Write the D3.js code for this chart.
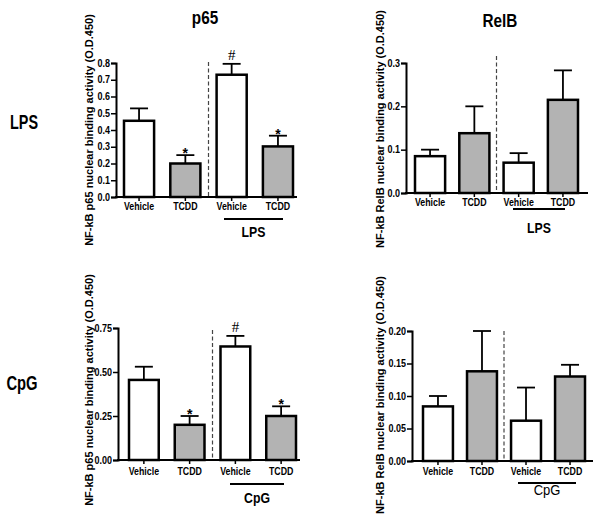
<!DOCTYPE html>
<html>
<head>
<meta charset="utf-8">
<script src="https://cdn.jsdelivr.net/npm/d3@7"></script>
<style>
  html, body { margin: 0; padding: 0; background: #fff; }
  svg { display: block; font-family: "Liberation Sans", Arial, sans-serif; }
</style>
</head>
<body>
<svg id="chart" width="600" height="524"></svg>
<script>
// ---- data ----
const categories = ["Vehicle", "TCDD", "Vehicle", "TCDD"];
const groupFill = ["white", "gray", "white", "gray"];

const p65LpsMeans = [0.455, 0.200, 0.730, 0.302];
const p65LpsErr   = [0.074, 0.050, 0.065, 0.064];
const p65LpsTicks = [0, 0.1, 0.2, 0.3, 0.4, 0.5, 0.6, 0.7, 0.8];

const relbLpsMeans = [0.085, 0.138, 0.070, 0.215];
const relbLpsErr   = [0.015, 0.062, 0.022, 0.068];
const relbLpsTicks = [0, 0.1, 0.2, 0.3];

const p65CpgMeans = [0.455, 0.200, 0.645, 0.250];
const p65CpgErr   = [0.075, 0.050, 0.060, 0.055];
const p65CpgTicks = [0, 0.25, 0.50, 0.75];

const relbCpgMeans = [0.084, 0.138, 0.062, 0.130];
const relbCpgErr   = [0.016, 0.062, 0.051, 0.018];
const relbCpgTicks = [0, 0.05, 0.10, 0.15, 0.20];

const p65Marks  = ["", "*", "#", "*"];
const relbMarks = ["", "", "", ""];

const columnTitles = ["p65", "RelB"];
const rowTitles = ["LPS", "CpG"];
const p65AxisTitle  = "NF-kB p65 nuclear binding activity (O.D.450)";
const relbAxisTitle = "NF-kB RelB nuclear binding activity (O.D.450)";

// ---- layout ----
const GRAY = "#b3b3b3";
const svg = d3.select("#chart");

// text helper with horizontal compression (narrow type in the original)
function label(parent, x, y, txt, size, weight, sx, anchor) {
  return parent.append("text")
    .attr("transform", `translate(${x},${y}) scale(${sx},1)`)
    .attr("text-anchor", anchor || "middle")
    .attr("font-size", size).attr("font-weight", weight)
    .attr("fill", "#000").text(txt);
}

const panels = [
  { means: p65LpsMeans, errs: p65LpsErr, ticks: p65LpsTicks, fmt: ".1f", marks: p65Marks,
    axisX: 116, y0: 197, y1: 63, bx0: 124, bx1: 293, pad: 0.35, xEnd: 297, dashTop: 62,
    yTitle: p65AxisTitle, yTitleX: 93, yTitleY: 130,
    group: "LPS", groupBold: true, ulY: 219, ulX0: 224, ulX1: 283, gLabelY: 237, catY: 210 },
  { means: relbLpsMeans, errs: relbLpsErr, ticks: relbLpsTicks, fmt: ".1f", marks: relbMarks,
    axisX: 406, y0: 193, y1: 63, bx0: 415, bx1: 578, pad: 0.32, xEnd: 588, dashTop: 56,
    yTitle: relbAxisTitle, yTitleX: 384, yTitleY: 129,
    group: "LPS", groupBold: true, ulY: 209, ulX0: 513, ulX1: 565, gLabelY: 233, catY: 206 },
  { means: p65CpgMeans, errs: p65CpgErr, ticks: p65CpgTicks, fmt: ".2f", marks: p65Marks,
    axisX: 118, y0: 460, y1: 328, bx0: 129, bx1: 296, pad: 0.35, xEnd: 300, dashTop: 330,
    yTitle: p65AxisTitle, yTitleX: 93, yTitleY: 390,
    group: "CpG", groupBold: true, ulY: 484, ulX0: 230, ulX1: 284, gLabelY: 503, catY: 475 },
  { means: relbCpgMeans, errs: relbCpgErr, ticks: relbCpgTicks, fmt: ".2f", marks: relbMarks,
    axisX: 412, y0: 461, y1: 331, bx0: 423, bx1: 585, pad: 0.32, xEnd: 593, dashTop: 331,
    yTitle: relbAxisTitle, yTitleX: 384, yTitleY: 395,
    group: "CpG", groupBold: false, ulY: 483, ulX0: 518, ulX1: 576, gLabelY: 495, catY: 475 }
];

panels.forEach(p => {
  const g = svg.append("g");
  const ticks = p.ticks;
  const y = d3.scaleLinear().domain([0, ticks[ticks.length - 1]]).range([p.y0, p.y1]);
  const x = d3.scaleBand().domain(d3.range(categories.length)).range([p.bx0, p.bx1])
              .paddingInner(p.pad).paddingOuter(0);

  // y axis
  const yAxis = d3.axisLeft(y).tickValues(ticks).tickFormat(d3.format(p.fmt)).tickSizeOuter(0).tickSize(5);
  const ya = g.append("g").attr("transform", `translate(${p.axisX},0)`).call(yAxis);
  ya.select(".domain").attr("stroke", "#000").attr("stroke-width", 2);
  ya.selectAll(".tick line").attr("stroke", "#000").attr("stroke-width", 1.5);
  ya.selectAll(".tick text").attr("font-size", 10).attr("font-weight", "bold").attr("fill", "#000")
    .attr("x", null).attr("text-anchor", "end")
    .attr("transform", "translate(-6,0) scale(0.9,1)");

  // x axis line
  g.append("line").attr("x1", p.axisX - 1).attr("x2", p.xEnd).attr("y1", p.y0).attr("y2", p.y0)
    .attr("stroke", "#000").attr("stroke-width", 2);
  // x ticks at bar centers
  g.selectAll(".xt").data(categories).enter().append("line")
    .attr("x1", (d, i) => x(i) + x.bandwidth() / 2).attr("x2", (d, i) => x(i) + x.bandwidth() / 2)
    .attr("y1", p.y0).attr("y2", p.y0 + 4).attr("stroke", "#000").attr("stroke-width", 1.5);

  // dashed separator
  const dashX = (x(1) + x.bandwidth() + x(2)) / 2;
  g.append("line").attr("x1", dashX).attr("x2", dashX).attr("y1", p.dashTop).attr("y2", p.y0)
    .attr("stroke", "#444").attr("stroke-width", 1.2).attr("stroke-dasharray", "4,2.5");

  // error bars (upper only)
  const cap = 9;
  p.means.forEach((m, i) => {
    const cx = x(i) + x.bandwidth() / 2;
    const top = y(m + p.errs[i]);
    g.append("line").attr("x1", cx).attr("x2", cx).attr("y1", y(m)).attr("y2", top)
      .attr("stroke", "#000").attr("stroke-width", 1.8);
    g.append("line").attr("x1", cx - cap).attr("x2", cx + cap).attr("y1", top).attr("y2", top)
      .attr("stroke", "#000").attr("stroke-width", 1.8);
    if (p.marks[i] === "#") {
      g.append("text").attr("x", cx).attr("y", top - 4)
        .attr("text-anchor", "middle").attr("font-size", 15)
        .attr("font-family", "'Liberation Serif', serif").attr("fill", "#000").text("#");
    } else if (p.marks[i] === "*") {
      g.append("text").attr("x", cx).attr("y", top + 3)
        .attr("text-anchor", "middle").attr("font-size", 14).attr("font-weight", "bold")
        .attr("fill", "#000").text("*");
    }
  });

  // bars
  g.selectAll(".bar").data(p.means).enter().append("rect")
    .attr("x", (d, i) => x(i)).attr("width", x.bandwidth())
    .attr("y", d => y(d)).attr("height", d => p.y0 - y(d))
    .attr("fill", (d, i) => groupFill[i] === "gray" ? GRAY : "#fff")
    .attr("stroke", "#000").attr("stroke-width", 2.5);

  // redraw x axis line on top
  g.append("line").attr("x1", p.axisX - 1).attr("x2", p.xEnd).attr("y1", p.y0).attr("y2", p.y0)
    .attr("stroke", "#000").attr("stroke-width", 2);

  // category labels
  categories.forEach((c, i) => {
    label(g, x(i) + x.bandwidth() / 2, p.catY, c, 10, "bold", 0.88);
  });

  // group underline and label
  g.append("line").attr("x1", p.ulX0).attr("x2", p.ulX1).attr("y1", p.ulY).attr("y2", p.ulY)
    .attr("stroke", "#000").attr("stroke-width", 2);
  if (p.groupBold) label(g, (p.ulX0 + p.ulX1) / 2, p.gLabelY, p.group, 15, "bold", 0.82);
  else label(g, (p.ulX0 + p.ulX1) / 2, p.gLabelY, p.group, 14, "normal", 0.93);

  // y title (rotated)
  g.append("text").attr("transform", `translate(${p.yTitleX},${p.yTitleY}) rotate(-90)`)
    .attr("text-anchor", "middle").attr("font-size", 11).attr("font-weight", "bold")
    .attr("fill", "#000").text(p.yTitle);
});

// column titles
label(svg, 205, 24, columnTitles[0], 18, "bold", 0.85);
label(svg, 500, 27, columnTitles[1], 18, "bold", 0.85);
// row titles
label(svg, 24, 129, rowTitles[0], 20, "bold", 0.72);
label(svg, 22, 390, rowTitles[1], 20, "bold", 0.74);
</script>
</body>
</html>
